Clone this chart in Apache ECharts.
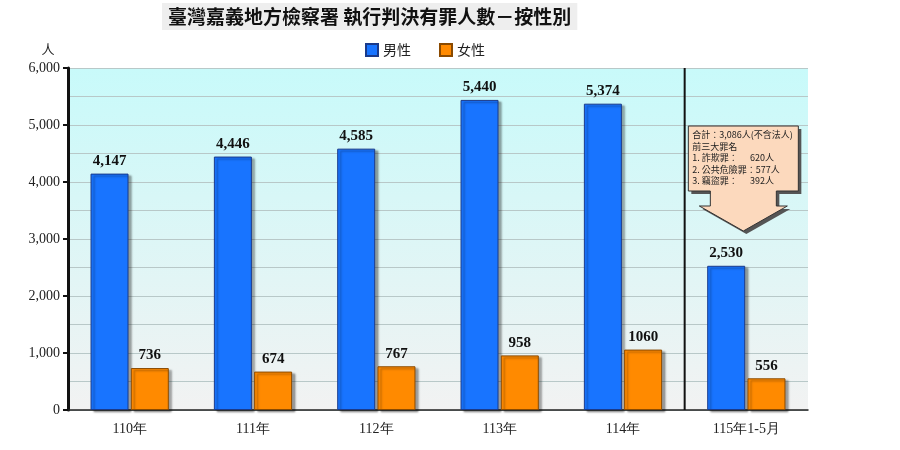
<!DOCTYPE html>
<html><head><meta charset="utf-8">
<script src="https://cdn.jsdelivr.net/npm/echarts@6/dist/echarts.min.js"></script>
<style>body{margin:0;background:#fff}#c{width:900px;height:450px}</style></head>
<body><div id="c"></div>
<script>
const categories = ['110年','111年','112年','113年','114年','115年1-5月'];
const male = [4147, 4446, 4585, 5440, 5374, 2530];
const female = [736, 674, 767, 958, 1060, 556];
const femaleLabels = ['736','674','767','958','1060','556'];
const noteLines = ['合計：3,086人(不含法人)','前三大罪名','1. 詐欺罪：      620人','2. 公共危險罪：577人','3. 竊盜罪：      392人'];

const chart = echarts.init(document.getElementById('c'));
const serif = 'Liberation Serif, DejaVu Serif, serif';
const cjk = 'Noto Sans CJK TC';
chart.setOption({
  animation:false,
  title:{text:'臺灣嘉義地方檢察署 執行判決有罪人數－按性別',left:162,top:3,
    backgroundColor:'#eeeeee',padding:[4,6],
    textStyle:{fontFamily:cjk,fontSize:19,fontWeight:'bold',color:'#111'}},
  legend:{top:38,left:360,itemWidth:12,itemHeight:12,itemGap:28,
    textStyle:{fontFamily:cjk,fontSize:14,color:'#222'},
    data:[{name:'男性',icon:'rect'},{name:'女性',icon:'rect'}]},
  grid:{left:68,right:92,top:68,bottom:40},
  xAxis:{type:'category',data:categories,
    axisLine:{lineStyle:{color:'#222',width:1.5}},axisTick:{show:false},
    axisLabel:{fontFamily:serif,fontSize:14,color:'#222',margin:12}},
  yAxis:{type:'value',min:0,max:6000,interval:1000,name:'人',
    nameTextStyle:{fontFamily:cjk,fontSize:13,color:'#222',padding:[0,40,0,0]},nameGap:12,
    axisLine:{show:true,lineStyle:{color:'#111',width:3}},
    axisTick:{show:true,length:5,lineStyle:{color:'#111',width:2}},
    axisLabel:{fontFamily:serif,fontSize:14,color:'#222',formatter:v=>v.toLocaleString('en-US')},
    splitLine:{lineStyle:{color:'#b8c8c8'}},
    minorTick:{show:false,splitNumber:2},
    minorSplitLine:{show:true,lineStyle:{color:'#b8c8c8'}},
    splitArea:{show:false}},
  series:[
    {name:'男性',type:'bar',data:male,barWidth:38,barGap:'6%',
      itemStyle:{color:'#1874ff',borderColor:'#1a3a8a',borderWidth:1,shadowColor:'rgba(0,0,0,0.35)',shadowOffsetX:3,shadowOffsetY:2,shadowBlur:2},
      label:{show:true,position:'top',fontFamily:serif,fontWeight:'bold',fontSize:15,color:'#111',formatter:p=>p.value.toLocaleString('en-US')}},
    {name:'女性',type:'bar',data:female,barWidth:38,
      itemStyle:{color:'#ff8a00',borderColor:'#8a4a00',borderWidth:1,shadowColor:'rgba(0,0,0,0.35)',shadowOffsetX:3,shadowOffsetY:2,shadowBlur:2},
      label:{show:true,position:'top',fontFamily:serif,fontWeight:'bold',fontSize:15,color:'#111',formatter:p=>femaleLabels[p.dataIndex]}}
  ]
});
const yTop = chart.convertToPixel({yAxisIndex:0},6000);
const yBot = chart.convertToPixel({yAxisIndex:0},0);
const px0 = chart.convertToPixel({xAxisIndex:0},0);
const px4 = chart.convertToPixel({xAxisIndex:0},4);
const px5 = chart.convertToPixel({xAxisIndex:0},5);
const stepW = px5 - px4;
const sepX = (px4 + px5)/2;
const gLeft = px0 - stepW/2, gRight = px5 + stepW/2;
const bx = px5 - 58, by = yTop + 58;
chart.setOption({graphic:[
  {type:'rect',z:-10,silent:true,shape:{x:gLeft,y:yTop,width:gRight-gLeft,height:yBot-yTop},
    style:{fill:new echarts.graphic.LinearGradient(0,0,0,1,[{offset:0,color:'#c8fafa'},{offset:1,color:'#f2f2f2'}])}},
  {type:'line',z:5,shape:{x1:sepX,y1:yTop,x2:sepX,y2:yBot},style:{stroke:'#111',lineWidth:2}},
  {type:'polygon',z:10,shape:{points:[[bx+3,by+3],[bx+113,by+3],[bx+113,by+68],[bx+91,by+68],[bx+91,by+83],[bx+102,by+83],[bx+58,by+108],[bx+14,by+83],[bx+25,by+83],[bx+25,by+68],[bx+3,by+68]]},
    style:{fill:'#555'}},
  {type:'polygon',z:11,shape:{points:[[bx,by],[bx+110,by],[bx+110,by+65],[bx+88,by+65],[bx+88,by+80],[bx+99,by+80],[bx+55,by+105],[bx+11,by+80],[bx+22,by+80],[bx+22,by+65],[bx,by+65]]},
    style:{fill:'#fcd9bd',stroke:'#333',lineWidth:1}},
  {type:'text',z:12,x:bx+4,y:by+3,style:{text:noteLines.join('\n'),fontFamily:cjk,fontSize:9,lineHeight:11.5,fill:'#222'}}
]});
</script></body></html>
